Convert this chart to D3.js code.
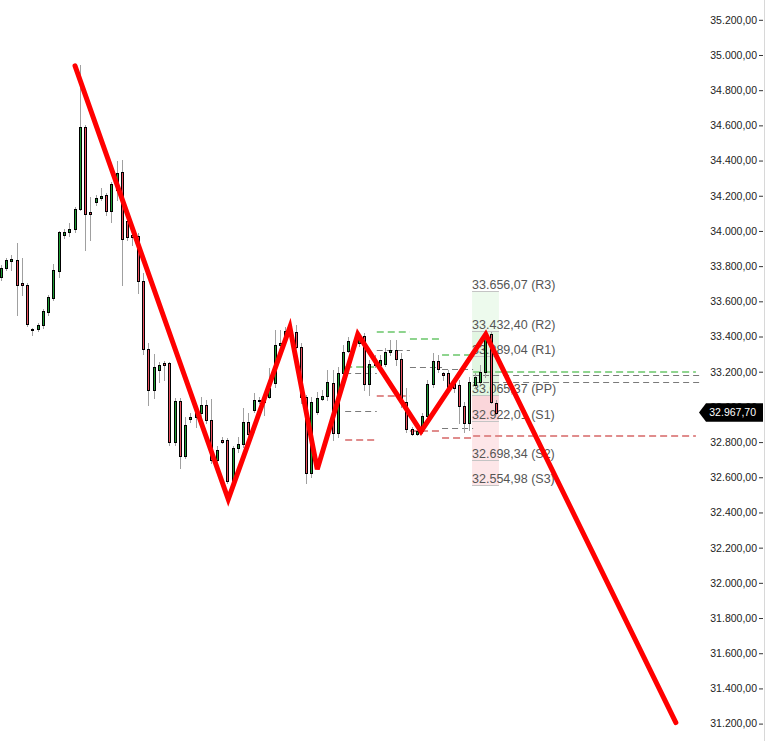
<!DOCTYPE html>
<html><head><meta charset="utf-8">
<script src="https://cdn.jsdelivr.net/npm/d3@7"></script>
<style>html,body{margin:0;padding:0;background:#fff;overflow:hidden}</style>
</head><body>
<svg id="c" width="766" height="741"></svg>
<script>
// ---- candle data (OHLC) ----
const opens=[33738,33789,33829,33834,33704,33692,33442,33442,33465,33539,33618,33772,33977,33994,34011,34125,34591,34108,34164,34187,34204,34113,34233,34335,34056,33977,33971,33715,33328,33095,33208,33248,33248,32799,33032,32719,32930,32941,32964,33009,32924,32696,32810,32810,32577,32765,32787,32913,32981,33038,33026,33055,33135,33351,33402,33430,33425,33339,33055,32622,32970,33044,33061,33135,32850,33191,33317,33356,33362,33402,33129,33248,33237,33243,33311,33322,33271,33026,32873,32844,32861,32947,33129,33260,33191,33191,33135,33123,33004,32907,33123,33140,33197,33413,33021];
const highs=[33806,33846,33863,33931,33846,33704,33448,33476,33556,33635,33812,34000,34011,34045,34136,34944,34602,34193,34204,34244,34216,34278,34398,34403,34073,33988,33988,33760,33362,33300,33254,33260,33254,33049,33049,32941,32964,32998,33055,33038,33044,32776,32827,32822,32776,32827,32992,32964,33078,33055,33083,33220,33436,33436,33453,33459,33465,33362,33066,33055,33083,33095,33208,33208,33226,33351,33396,33391,33413,33419,33265,33294,33294,33334,33379,33379,33305,33106,32884,32867,32964,33152,33305,33294,33197,33208,33152,33152,33026,33169,33191,33237,33419,33425,33038];
const lows=[33721,33777,33777,33521,33635,33459,33408,33430,33448,33521,33607,33738,33960,33971,33994,34119,33891,33948,34147,34176,34090,34051,34176,33692,33948,33920,33647,33300,33009,33049,33140,33152,32782,32782,32651,32708,32913,32884,32941,32907,32679,32657,32793,32566,32566,32742,32770,32810,32970,33021,32952,33049,33112,33339,33396,33402,33334,33021,32566,32600,32958,33038,33038,32810,32827,33180,33311,33345,33345,33095,33066,33226,33208,33231,33294,33237,32998,32856,32839,32839,32850,32924,33112,33197,33152,33083,33083,32907,32856,32867,33106,33135,33169,33021,32958];
const closes=[33789,33834,33840,33692,33692,33470,33436,33465,33544,33624,33777,33994,33994,34011,34125,34591,34096,34096,34187,34199,34113,34267,34329,33954,33965,33965,33715,33328,33095,33226,33237,33237,32799,33032,32719,32896,32941,32964,33009,32924,32696,32753,32799,32577,32765,32787,32913,32844,33038,33032,33055,33106,33351,33362,33430,33425,33339,33055,32622,33026,33049,33061,33140,32850,33191,33311,33374,33374,33379,33129,33243,33237,33265,33311,33322,33271,33026,32873,32844,32861,32947,33129,33260,33214,33180,33106,33106,33004,32907,33140,33169,33197,33408,33026,32967.7];

// ---- zigzag forecast line (bar index, price) ----
const zigIdx=[14.0,43.1,54.8,60.0,67.7,79.7,92.0,128.1];
const zigPrice=[34938,32475,33453,32645,33413,32861,33413,31206];

// ---- earlier period pivot segments ----
const segStart=[65.3,71.3,77.6,83.7];
const segEnd=[71.3,77.6,83.7,89.6];
const segR1=[33226,33425,33385,33294];
const segPP=[33191,33322,33226,33214];
const segPP2=[32975,null,null,32878];
const segS1=[32810,33061,32861,32822];

// ---- long right-side levels ----
const longStart=89.6;
const longGreen=33200, longGray1=33184, longGray2=33140, longRed=32836;
const longEndGreen=131.9, longEndGray=132.6;

// ---- current pivot box ----
const pivotNames=["R3","R2","R1","PP","S1","S2","S3"];
const pivotValues=[33656.07,33432.40,33289.04,33065.37,32922.01,32698.34,32554.98];
const boxStart=89.4, boxEnd=94.5;

// ---- axis ticks / last price ----
const tickValues=d3.range(31200,35201,200);
const lastPrice=32967.70;

const svg=d3.select('#c');
const x=d3.scaleLinear().domain([0,94]).range([1.3,496.3]);
const y=d3.scaleLinear().domain([31200,35200]).range([723.6,19.8]);
const loc=d3.formatLocale({decimal:",",thousands:".",grouping:[3],currency:["",""]});
const fmt=loc.format(",.2f");
const FONT="'Liberation Sans', Arial, sans-serif";

svg.append('rect').attr('width',766).attr('height',741).attr('fill','#fff');

// pivot box fills
const bx0=x(boxStart), bx1=x(boxEnd);
const pv=n=>pivotValues[pivotNames.indexOf(n)];
const fills=[["R3","R2","#edfaed"],["R2","PP","#e2f6e2"],["PP","S1","#fad6da"],["S1","S3","#fde6e8"]];
svg.append('g').selectAll('rect').data(fills).join('rect')
  .attr('x',bx0).attr('width',bx1-bx0)
  .attr('y',d=>y(pv(d[0]))).attr('height',d=>y(pv(d[1]))-y(pv(d[0])))
  .attr('fill',d=>d[2]);

// dashed levels
const dashG=svg.append('g');
function dline(i0,i1,p,color,w,dash){
  const yy=Math.round(y(p))+(w%2?0.5:0);
  dashG.append('line').attr('x1',x(i0)).attr('x2',x(i1)).attr('y1',yy).attr('y2',yy)
    .attr('stroke',color).attr('stroke-width',w).attr('stroke-dasharray',dash);
}
const GREEN='#8ed48e', RED='#e08c8c', GRAY='#7a7a7a';
segStart.forEach((s,i)=>{
  dline(s,segEnd[i],segR1[i],GREEN,2,'7,4');
  dline(s,segEnd[i],segPP[i],GRAY,1,'6,4');
  if(segPP2[i]!=null) dline(s,segEnd[i],segPP2[i],GRAY,1,'6,4');
  dline(s,segEnd[i],segS1[i],RED,2,'7,4');
});
dline(longStart,longEndGreen,longGreen,GREEN,2,'7,4');
dline(longStart,longEndGray,longGray1,GRAY,1,'6,4');
dline(longStart,longEndGray,longGray2,GRAY,1,'6,4');
dline(longStart,longEndGreen,longRed,RED,2,'7,4');

// pivot box lines + labels
const pg=svg.append('g');
pivotValues.forEach((v,i)=>{
  const yy=Math.round(y(v))+0.5;
  pg.append('line').attr('x1',bx0).attr('x2',bx1).attr('y1',yy).attr('y2',yy)
    .attr('stroke','#c4c4c4').attr('stroke-width',1);
  pg.append('text').attr('x',bx0).attr('y',yy-2.5)
    .attr('font-family',FONT).attr('font-size','12.5px').attr('fill','#555')
    .text(fmt(v)+' ('+pivotNames[i]+')');
});

// candles
const cg=svg.append('g');
const idx=d3.range(opens.length);
idx.forEach(i=>{
  const n=Math.floor(x(i));
  cg.append('line').attr('x1',n+0.5).attr('x2',n+0.5)
    .attr('y1',Math.round(y(highs[i]))).attr('y2',Math.round(y(lows[i]))+1)
    .attr('stroke','#a0a0a0').attr('stroke-width',1);
});
idx.forEach(i=>{
  const n=Math.floor(x(i));
  const up=closes[i]>=opens[i];
  const t=Math.round(y(Math.max(opens[i],closes[i])))+0.5;
  let b=Math.round(y(Math.min(opens[i],closes[i])))+0.5;
  if(b-t<1) b=t+1;
  cg.append('rect').attr('x',n-0.5).attr('width',2).attr('y',t).attr('height',b-t)
    .attr('fill',up?'#1e9b34':'#e8505f').attr('stroke','#000').attr('stroke-width',1);
});

// zigzag
svg.append('path')
  .datum(zigIdx.map((d,i)=>[d,zigPrice[i]]))
  .attr('d',d3.line().x(d=>x(d[0])).y(d=>y(d[1])))
  .attr('fill','none').attr('stroke','#ff0000').attr('stroke-width',5)
  .attr('stroke-linejoin','miter').attr('stroke-linecap','round');

// axis
const ax=svg.append('g').attr('transform','translate(763,0)')
  .call(d3.axisLeft(y).tickValues(tickValues).tickSize(4).tickPadding(2).tickFormat(fmt));
ax.select('.domain').remove();
ax.selectAll('text').attr('font-family',FONT).attr('font-size','10.5px').attr('fill','#222');
ax.selectAll('line').attr('stroke','#333');
svg.append('line').attr('x1',764.5).attr('x2',764.5).attr('y1',0).attr('y2',741)
  .attr('stroke','#d8d8d8');

// last price label
const ly=y(lastPrice);
svg.append('path')
  .attr('d',`M699,${ly} L706,${ly-9.2} L763,${ly-9.2} L763,${ly+9.2} L706,${ly+9.2} Z`)
  .attr('fill','#000');
svg.append('text').attr('x',756).attr('y',ly).attr('dy','0.35em').attr('text-anchor','end')
  .attr('font-family',FONT).attr('font-size','10.5px').attr('fill','#fff').text(fmt(lastPrice));
</script>
</body></html>
